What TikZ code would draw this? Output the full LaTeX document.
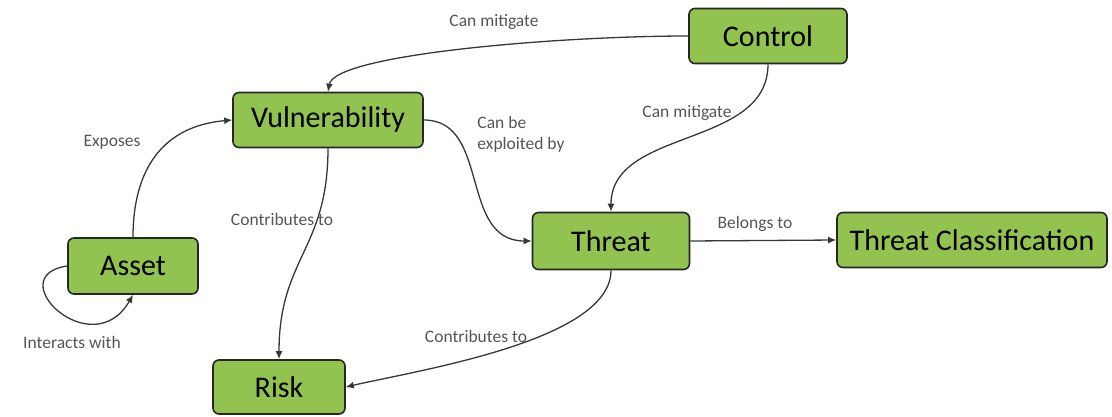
\documentclass[tikz,border=0pt]{standalone}
\usepackage{fontspec}
\setmainfont{Carlito}
\usetikzlibrary{arrows.meta,positioning}
\definecolor{boxgreen}{RGB}{146,194,80}
\definecolor{edgegray}{RGB}{55,55,55}
\definecolor{labelgray}{RGB}{85,85,85}

\begin{document}
\begin{tikzpicture}
  [x=1pt, y=1pt,
   concept/.style={shape=rectangle, draw=black!85, line width=1.6pt, fill=boxgreen,
     rounded corners=6pt, inner sep=0pt, minimum height=55pt,
     font=\fontsize{30}{36}\selectfont},
   relation/.style={text=labelgray, inner sep=0pt, align=left,
     font=\fontsize{17.5}{21}\selectfont},
   link/.style={draw=edgegray, line width=1.3pt, -{Latex[length=8pt,width=7pt]}}]
  \useasboundingbox (0,0) rectangle (1112,416);

  \node[concept, minimum width=158pt] (control) at (768,380) {Control};
  \node[concept, minimum width=190pt] (vuln) at (328,296) {Vulnerability};
  \node[concept, minimum width=130pt, minimum height=56pt] (asset) at (133,150) {Asset};
  \node[concept, minimum width=157pt, minimum height=57pt] (threat) at (611,175) {Threat};
  \node[concept, minimum width=270pt] (tclass) at (972,176) {Threat Classification};
  \node[concept, minimum width=132pt, minimum height=54pt] (risk) at (279,29) {Risk};

  \node[relation] (mitigatevuln) at (494,394) {Can mitigate};
  \node[relation] (exploited) at (521,282) {Can be\\exploited by};
  \node[relation] (mitigatethreat) at (687,303) {Can mitigate};
  \node[relation] (belongs) at (755,192) {Belongs to};
  \node[relation] (threatrisk) at (476,80) {Contributes to};
  \node[relation] (vulnrisk) at (282,197) {Contributes to};
  \node[relation] (exposes) at (112,274) {Exposes};
  \node[relation] (interacts) at (72,74) {Interacts with};

  \draw[link] (control.west) .. controls +(180:129) and +(80:38) .. (vuln.north);
  \draw[link] (vuln.east) .. controls +(0:67) and +(180:73) .. (threat.west);
  \draw[link] (control.south) to[out=-90, in=90] (threat.north);
  \draw[link] (threat.east) -- (tclass.west);
  \draw[link] (threat.south) .. controls +(-90:70) and +(13:77) .. (risk.east);
  \draw[link] (vuln.south) to[out=-90, in=90, looseness=1.2] (risk.north);
  \draw[link] (asset.north) to[out=90, in=185, looseness=1.15] (vuln.west);
  \draw[link] (asset.west) .. controls +(-68,-10) and +(-41,-71) .. (asset.south);
\end{tikzpicture}
\end{document}
